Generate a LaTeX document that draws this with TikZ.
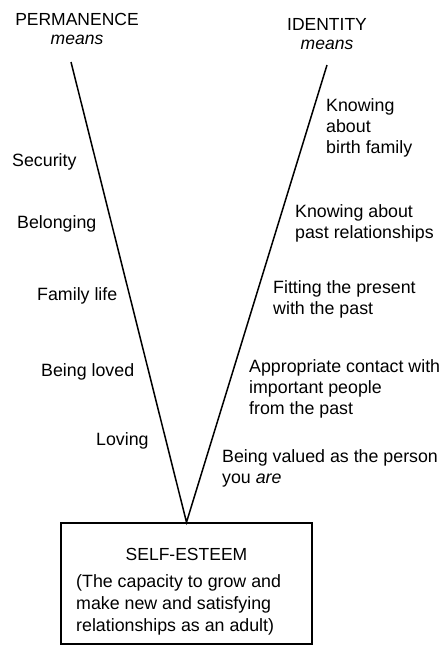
\documentclass[tikz,border=0pt]{standalone}
\usepackage{fontspec}
\setmainfont{Liberation Sans}
\begin{document}
\begin{tikzpicture}[x=1pt,y=-1pt,
  lbl/.style={inner sep=0pt, font=\fontsize{17.8}{21}\selectfont, align=left},
  boxtxt/.style={inner sep=0pt, font=\fontsize{17.8}{22}\selectfont, align=left},
  ttl/.style={inner sep=0pt, font=\fontsize{17.5}{19}\selectfont, align=center},
  vline/.style={line width=1.5pt},
  sebox/.style={draw, line width=1.5pt, minimum width=251pt, minimum height=121pt, inner sep=0pt}]
\useasboundingbox (0,0) rectangle (440,646);
% titles
\node[ttl, anchor=north] (perm) at (77,13.5) {PERMANENCE\\\textit{means}};
\node[ttl, anchor=north] (iden) at (327,18.5) {IDENTITY\\\textit{means}};
% box
\node[sebox] (se) at (186.5,583.5) {};
\node[ttl, anchor=north] (setitle) at (186.5,548.5) {SELF-ESTEEM};
\node[boxtxt, anchor=north west] (sebody) at (76,574) {(The capacity to grow and\\make new and satisfying\\relationships as an adult)};
% V lines
\coordinate (ptop) at (71,62);
\coordinate (itop) at (327,65);
\draw[vline] (ptop) -- (se.north) -- (itop);
% left labels
\node[lbl, anchor=base west] (sec) at (12,166) {Security};
\node[lbl, anchor=base west] (bel) at (17,228) {Belonging};
\node[lbl, anchor=base west] (fam) at (37,300) {Family life};
\node[lbl, anchor=base west] (blv) at (41,376) {Being loved};
\node[lbl, anchor=base west] (lov) at (96,445) {Loving};
% right labels
\node[lbl, anchor=north west] (kbf) at (326,98) {Knowing\\about\\birth family};
\node[lbl, anchor=north west] (kpr) at (295,204) {Knowing about\\past relationships};
\node[lbl, anchor=north west] (fit) at (273,280) {Fitting the present\\with the past};
\node[lbl, anchor=north west] (app) at (249,359) {Appropriate contact with\\important people\\from the past};
\node[lbl, anchor=north west] (val) at (222,449) {Being valued as the person\\you \textit{are}};
\end{tikzpicture}
\end{document}
